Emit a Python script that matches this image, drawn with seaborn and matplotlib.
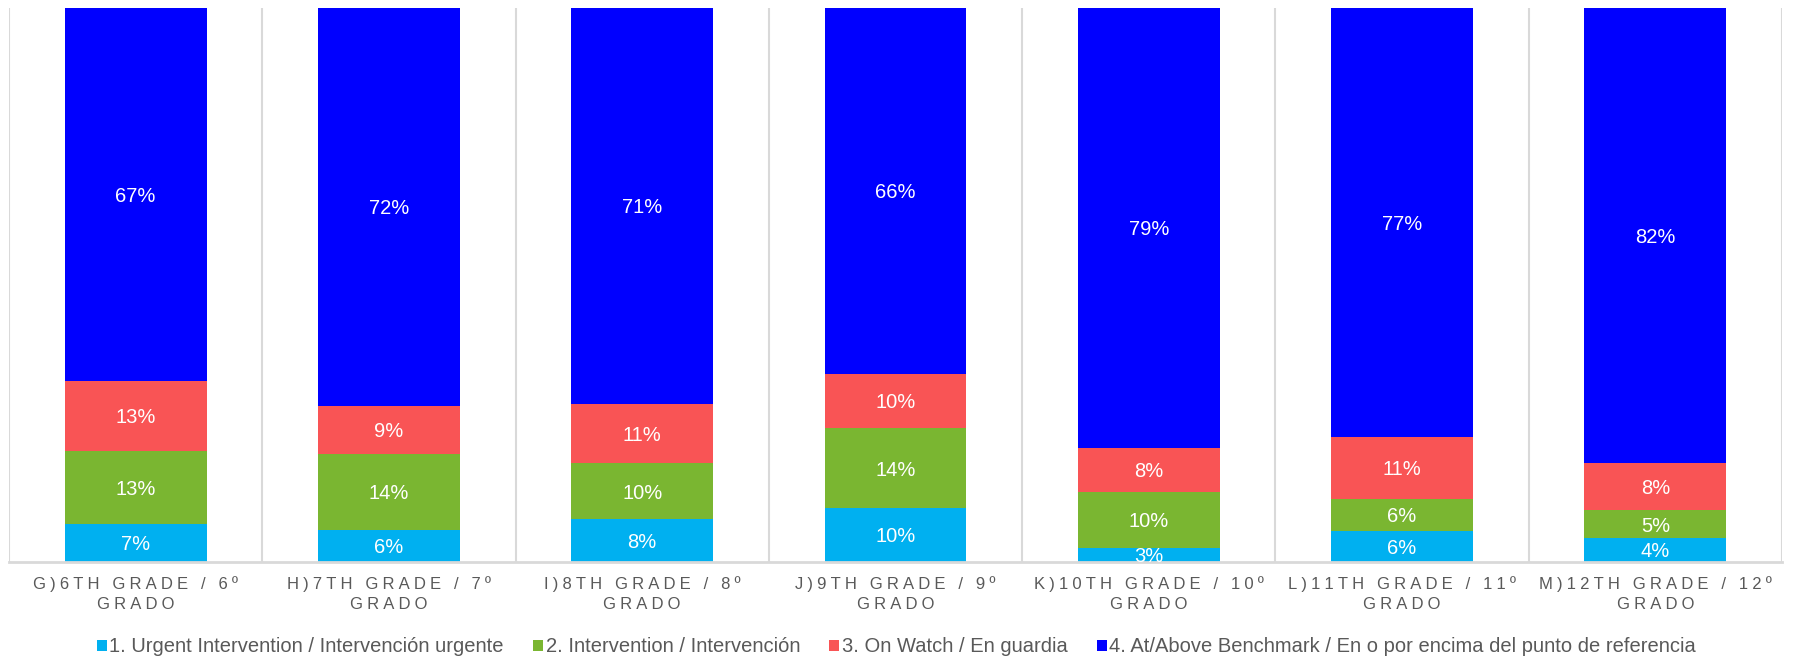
import matplotlib
matplotlib.use("Agg")
import matplotlib.pyplot as plt
from matplotlib.patches import Patch
from matplotlib import transforms
import seaborn as sns
import pandas as pd
import numpy as np

categories = ["G)6TH GRADE / 6º\nGRADO", "H)7TH GRADE / 7º\nGRADO", "I)8TH GRADE / 8º\nGRADO",
              "J)9TH GRADE / 9º\nGRADO", "K)10TH GRADE / 10º\nGRADO", "L)11TH GRADE / 11º\nGRADO",
              "M)12TH GRADE / 12º\nGRADO"]
series_names = ["1. Urgent Intervention / Intervención urgente",
                "2. Intervention / Intervención",
                "3. On Watch / En guardia",
                "4. At/Above Benchmark / En o por encima del punto de referencia"]
urgent = [6.8, 5.8, 7.7, 9.7, 2.6, 5.6, 4.3]
intervention = [13.3, 13.7, 10.1, 14.4, 10.1, 5.8, 5.0]
on_watch = [12.6, 8.7, 10.8, 9.9, 7.9, 11.2, 8.5]
benchmark = [67.3, 71.8, 71.4, 66.0, 79.4, 77.4, 82.2]
colors = ["#00B0F0", "#7AB631", "#F95455", "#0000FF"]

sns.set_theme(style="white")
plt.rcParams['font.family'] = ['Liberation Sans', 'DejaVu Sans']

def spaced(s):
    sp = "\u2005"
    return "\n".join(sp.join(list(line)) for line in s.split("\n"))

labels = [spaced(c) for c in categories]
series = [urgent, intervention, on_watch, benchmark]
cum = np.cumsum(np.array(series), axis=0)

fig = plt.figure(figsize=(17.93, 6.56), dpi=100)
ax = fig.add_axes([9/1793, 1-562/656, (1782-9)/1793, (562-8)/656])

for k in range(3, -1, -1):
    df = pd.DataFrame({"cat": labels, "val": cum[k]})
    sns.barplot(data=df, x="cat", y="val", color=colors[k], width=0.56,
                saturation=1, ax=ax, edgecolor="none", linewidth=0)

txt_tr = transforms.offset_copy(ax.transData, fig=fig, y=-1.3, units="points")
for k in range(4):
    for i in range(len(labels)):
        v = series[k][i]
        mid = cum[k][i] - v / 2
        ax.text(i, mid, f"{round(v):.0f}%", ha="center", va="center",
                color="white", fontsize=14.5, transform=txt_tr)

ax.set_xlim(-0.5, len(labels) - 0.5)
ax.set_ylim(0, 100)
ax.set_yticks([])
ax.set_xlabel("")
ax.set_ylabel("")
for x in np.arange(-0.5, len(labels), 1.0):
    ax.axvline(x, color="#D9D9D9", lw=1.5, zorder=0)
for s in ["top", "left", "right"]:
    ax.spines[s].set_visible(False)
ax.spines["bottom"].set_color("#D9D9D9")
ax.spines["bottom"].set_linewidth(2)
ax.tick_params(axis="x", length=0, pad=10, labelsize=12, labelcolor="#595959")
for t in ax.get_xticklabels():
    t.set_linespacing(1.4)

handles = [Patch(facecolor=c, edgecolor="none") for c in colors]
fig.legend(handles, series_names, loc="center", bbox_to_anchor=(0.5, 1-647/656),
           ncol=4, frameon=False, fontsize=14.5, labelcolor="#595959",
           handlelength=0.5, handleheight=0.5, handletextpad=0.12, columnspacing=1.45)

fig.savefig("out.png", dpi=100)
